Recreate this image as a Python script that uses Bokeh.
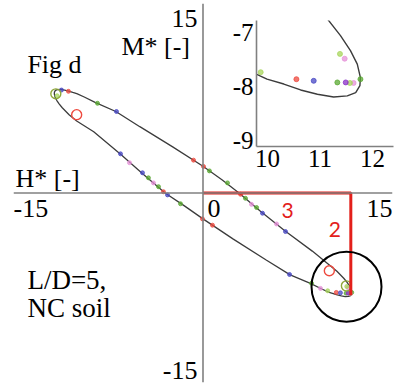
from bokeh.plotting import figure
from bokeh.models import Range1d, Span, Label, LinearAxis, FixedTicker
from bokeh.layouts import column
from bokeh.embed import file_html
from bokeh.resources import INLINE

# Closed interaction locus in the H*-M* plane, traced around the curve
locus_h = [-11.77, -11.76, -11.68, -11.52, -11.26, -10.95, -10.63, -10.31, -9.99, -9.40,
           -8.50, -6.90, -5.00, -2.40, 0.00, 1.50, 2.85, 4.50, 6.50, 8.65,
           10.00, 10.60, 11.14, 11.39, 11.58, 11.71, 11.77, 11.76, 11.68, 11.52,
           11.26, 10.95, 10.63, 10.31, 9.99, 9.40, 8.50, 6.90, 5.00, 2.40,
           0.00, -1.50, -3.00, -4.80, -6.50, -8.65, -10.00, -10.60, -11.14, -11.39,
           -11.58, -11.71, -11.77]
locus_m = [7.84, 7.99, 8.12, 8.18, 8.20, 8.15, 8.07, 7.96, 7.87, 7.60,
           7.15, 6.45, 5.25, 3.65, 2.12, 1.05, 0.00, -1.40, -3.00, -4.60,
           -5.70, -6.20, -6.75, -7.06, -7.34, -7.59, -7.84, -7.99, -8.12, -8.18,
           -8.20, -8.15, -8.07, -7.96, -7.87, -7.60, -7.15, -6.48, -5.30, -3.65,
           -2.05, -1.00, 0.00, 1.55, 3.05, 4.85, 5.70, 6.20, 6.75, 7.06,
           7.34, 7.59, 7.84]

# Test results, one list pair per series
red_h = [-10.65, -0.75, 0.04, 2.97, -3.13, -0.04, 0.75, 10.55]
red_m = [8.05, 2.60, 2.10, -0.10, 0.10, -2.05, -2.55, -7.87]
green_h = [-8.35, 0.51, 1.94, 3.36, 4.24, -4.32, -3.52, -1.78, 8.59, 11.33, 11.77]
green_m = [7.10, 1.75, 0.80, -0.42, -1.15, 1.20, 0.50, -0.85, -7.15, -7.93, -7.87]
blue_h = [-11.20, -6.85, 4.71, 6.53, -6.53, -4.79, -2.81, 6.85, 10.88]
blue_m = [8.15, 6.45, -1.60, -3.05, 3.10, 1.60, -0.15, -6.45, -7.90]
pink_h = [3.84, 5.82, -5.82, -3.92, 9.30, 11.64, 11.47]
pink_m = [-0.90, -2.45, 2.40, 0.80, -7.55, -7.94, -7.49]
lime_h = [-11.55, 9.87, 11.57, 11.38]
lime_m = [7.70, -7.74, -7.94, -7.40]
purple_h = [11.49]
purple_m = [-7.93]

# Highlighted points drawn as open rings
ring_h = [-11.65, -10.00, 10.00, 11.35]
ring_m = [7.85, 6.20, -6.15, -7.35]

# Tip of the locus, marked by guide lines and a circle
tip_h, tip_m = 11.70, -8.10
zoom_h, zoom_m, zoom_r = 11.36, -7.42, 2.77

SERIF = "Liberation Serif"
SANS = "Lato"
AXIS = "#808080"
CURVE = "#3c3c3c"
RED = "#e3201b"
RED_PT = "#ee4a3f"
GREEN = "#5aa832"
BLUE = "#4848c4"
PINK = "#e592d8"
LIME = "#a8d65c"
PURPLE = "#8a2fc8"
OLIVE = "#8fa83a"

series = [(red_h, red_m, RED_PT), (green_h, green_m, GREEN), (blue_h, blue_m, BLUE),
          (pink_h, pink_m, PINK), (lime_h, lime_m, LIME), (purple_h, purple_m, PURPLE)]

W, H = 398, 387

# ---- main chart ----
p = figure(width=W, height=H, x_range=Range1d(-15, 15), y_range=Range1d(-15, 15),
           x_axis_type=None, y_axis_type=None, toolbar_location=None, output_backend="svg",
           title=None, min_border_left=13, min_border_right=6, min_border_top=3,
           min_border_bottom=5, outline_line_color=None, frame_align=False,
           background_fill_color="white", border_fill_color="white", align="start")

p.add_layout(Span(location=0, dimension="width", line_color=AXIS, line_width=1.6))
p.add_layout(Span(location=0, dimension="height", line_color=AXIS, line_width=1.6))

p.line(locus_h, locus_m, line_color=CURVE, line_width=1.3)

for hs, ms, c in series:
    p.scatter(hs, ms, size=4, color=c, alpha=0.75)

p.scatter(ring_h, ring_m, size=10, fill_color=None,
          line_color=[OLIVE, RED_PT, RED_PT, OLIVE], line_width=1.4)

p.line([0, tip_h, tip_h], [0, 0, tip_m], line_color=RED, line_width=3)
p.circle(x=[zoom_h], y=[zoom_m], radius=zoom_r, fill_color=None,
         line_color="black", line_width=2)

RAISE = 7.5  # lift applied to every free text so its baseline sits where wanted


def lab(x, y, text, align="left", dx=0, dy=0, size="26px", font=SERIF, color="black"):
    p.add_layout(Label(x=x, y=y, x_offset=dx, y_offset=dy + RAISE, text=text,
                       text_align=align, text_baseline="alphabetic", text_font=font,
                       text_font_size=size, text_color=color))


lab(-15, 0, "-15", "left", 0, -22.5)
lab(15, 0, "15", "right", 0, -22.5)
lab(0, 0, "0", "left", 4.5, -22.5)
lab(0, 15, "15", "right", -5.5, -22)
lab(0, -15, "-15", "right", -5.5, 5)
lab(-15, 0, "H* [-]", "left", 2, 7.5)
lab(0, 15, "M* [-]", "right", -13, -50)
lab(-13.9, 9.6, "Fig d")
lab(-13.9, -7.5, "L/D=5,", size="27px")
lab(-13.9, -9.7, "NC soil", size="27px")
lab(6.7, 0, "3", "center", 0, -24.5, "21px", SANS, RED)
lab(tip_h, -3.5, "2", "right", -10, 0, "21px", SANS, RED)

# ---- inset: close-up of the tip, laid over the same page area ----
inset = figure(width=W, height=H, x_range=Range1d(9.79, 12.4), y_range=Range1d(-9.12, -6.78),
               x_axis_type=None, y_axis_type=None, toolbar_location=None, output_backend="svg",
               title=None, min_border_left=256, min_border_right=5, min_border_top=20,
               min_border_bottom=241, outline_line_color=None, frame_align=False,
               background_fill_alpha=0, border_fill_alpha=0,
               margin=(-H, 0, 0, 0), align="start")

common = dict(major_tick_out=0, major_tick_in=0, minor_tick_out=0, minor_tick_in=0,
              axis_line_color=AXIS, axis_line_width=1.6, major_label_text_font=SERIF,
              major_label_text_font_size="25px", major_label_text_color="black",
              major_label_standoff=3)
ix = LinearAxis(ticker=FixedTicker(ticks=[10, 11, 12]), **common)
iy = LinearAxis(ticker=FixedTicker(ticks=[-9, -8, -7]),
                major_label_overrides={-9: "-9", -8: "-8", -7: "-7"}, **common)
inset.add_layout(ix, "below")
inset.add_layout(iy, "left")

inset.line(locus_h, locus_m, line_color=CURVE, line_width=1.4)
for hs, ms, c in series:
    inset.scatter(hs, ms, size=5, color=c, alpha=0.75)

page = column(p, inset, width=W, height=H, spacing=0)
open("out.html", "w").write(file_html(page, INLINE))
